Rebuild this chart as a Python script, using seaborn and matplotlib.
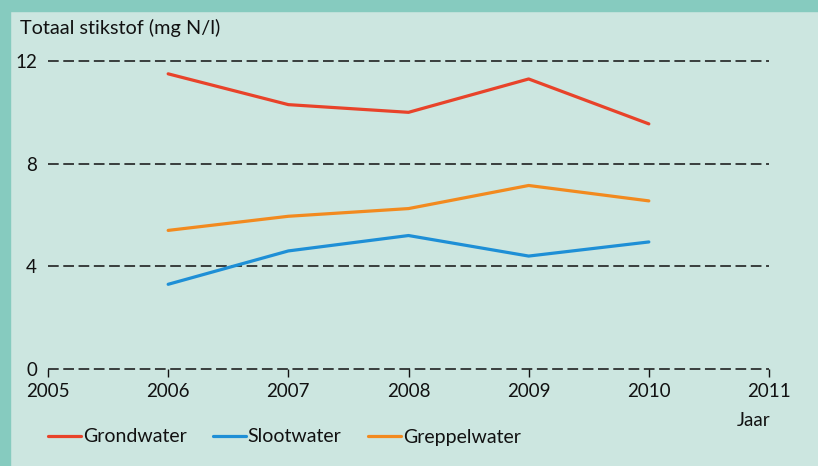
import matplotlib
matplotlib.use("Agg")
import matplotlib.pyplot as plt
import seaborn as sns
import pandas as pd
from matplotlib.patches import Rectangle
from matplotlib.lines import Line2D

years = [2006, 2007, 2008, 2009, 2010]
grondwater = [11.5, 10.3, 10.0, 11.3, 9.55]
slootwater = [3.3, 4.6, 5.2, 4.4, 4.95]
greppelwater = [5.4, 5.95, 6.25, 7.15, 6.55]
series_names = ["Grondwater", "Slootwater", "Greppelwater"]
colors = ["#e8432a", "#1e8fd6", "#f28a1f"]
yticks = [0, 4, 8, 12]
xticks = [2005, 2006, 2007, 2008, 2009, 2010, 2011]

df = pd.DataFrame({
    "Jaar": years * 3,
    "waarde": grondwater + slootwater + greppelwater,
    "reeks": [series_names[0]] * 5 + [series_names[1]] * 5 + [series_names[2]] * 5,
})

sns.set_style("white")
plt.rcParams['font.family'] = ['Lato', 'DejaVu Sans']
FS = 13.5

bg = "#cce6e0"
fig = plt.figure(figsize=(8.18, 4.66), dpi=100, facecolor=bg)
W, H = 818, 466
ax = fig.add_axes([48 / W, 1 - 369 / H, (769 - 48) / W, (369 - 61) / H])
ax.set_facecolor(bg)

# border bands
fig.patches.append(Rectangle((0, 1 - 11 / H), 1, 11 / H, transform=fig.transFigure,
                             color="#86cbbf", zorder=0))
fig.patches.append(Rectangle((0, 0), 10 / W, 1, transform=fig.transFigure,
                             color="#86cbbf", zorder=0))

for yv in yticks:
    ax.axhline(yv, color="#111111", lw=1.1, ls=(0, (7, 3)), zorder=1, clip_on=False)

sns.lineplot(data=df, x="Jaar", y="waarde", hue="reeks", palette=colors,
             hue_order=series_names, lw=2.3, ax=ax, legend=False, zorder=3)

ax.set_xlim(2005, 2011)
ax.set_ylim(0, 12)
for s in ax.spines.values():
    s.set_visible(False)
ax.set_xticks(xticks)
ax.set_xticklabels([str(x) for x in xticks])
ax.set_yticks(yticks)
ax.set_yticklabels([str(y) for y in yticks])
ax.tick_params(axis="x", direction="out", length=6, width=1, color="#111111",
               pad=4, labelsize=FS, labelcolor="#111111", bottom=True)
ax.tick_params(axis="y", length=0, pad=8, labelsize=FS, labelcolor="#111111")
ax.set_xlabel("")
ax.set_ylabel("")

fig.text(20 / W, 1 - 28 / H, "Totaal stikstof (mg N/l)", fontsize=14.3,
         color="#111111", va="center", ha="left")
fig.text(770 / W, 1 - 421 / H, "Jaar", fontsize=FS, color="#111111",
         va="center", ha="right")

handles = [Line2D([0], [0], color=c, lw=2.3) for c in colors]
fig.legend(handles, series_names, loc="center left",
           bbox_to_anchor=(40 / W, 1 - 437 / H), ncol=3, frameon=False,
           fontsize=14, handlelength=1.7, handletextpad=0.1,
           columnspacing=1.35, labelcolor="#111111", borderaxespad=0)

fig.savefig("out.png", dpi=100, facecolor=bg)
